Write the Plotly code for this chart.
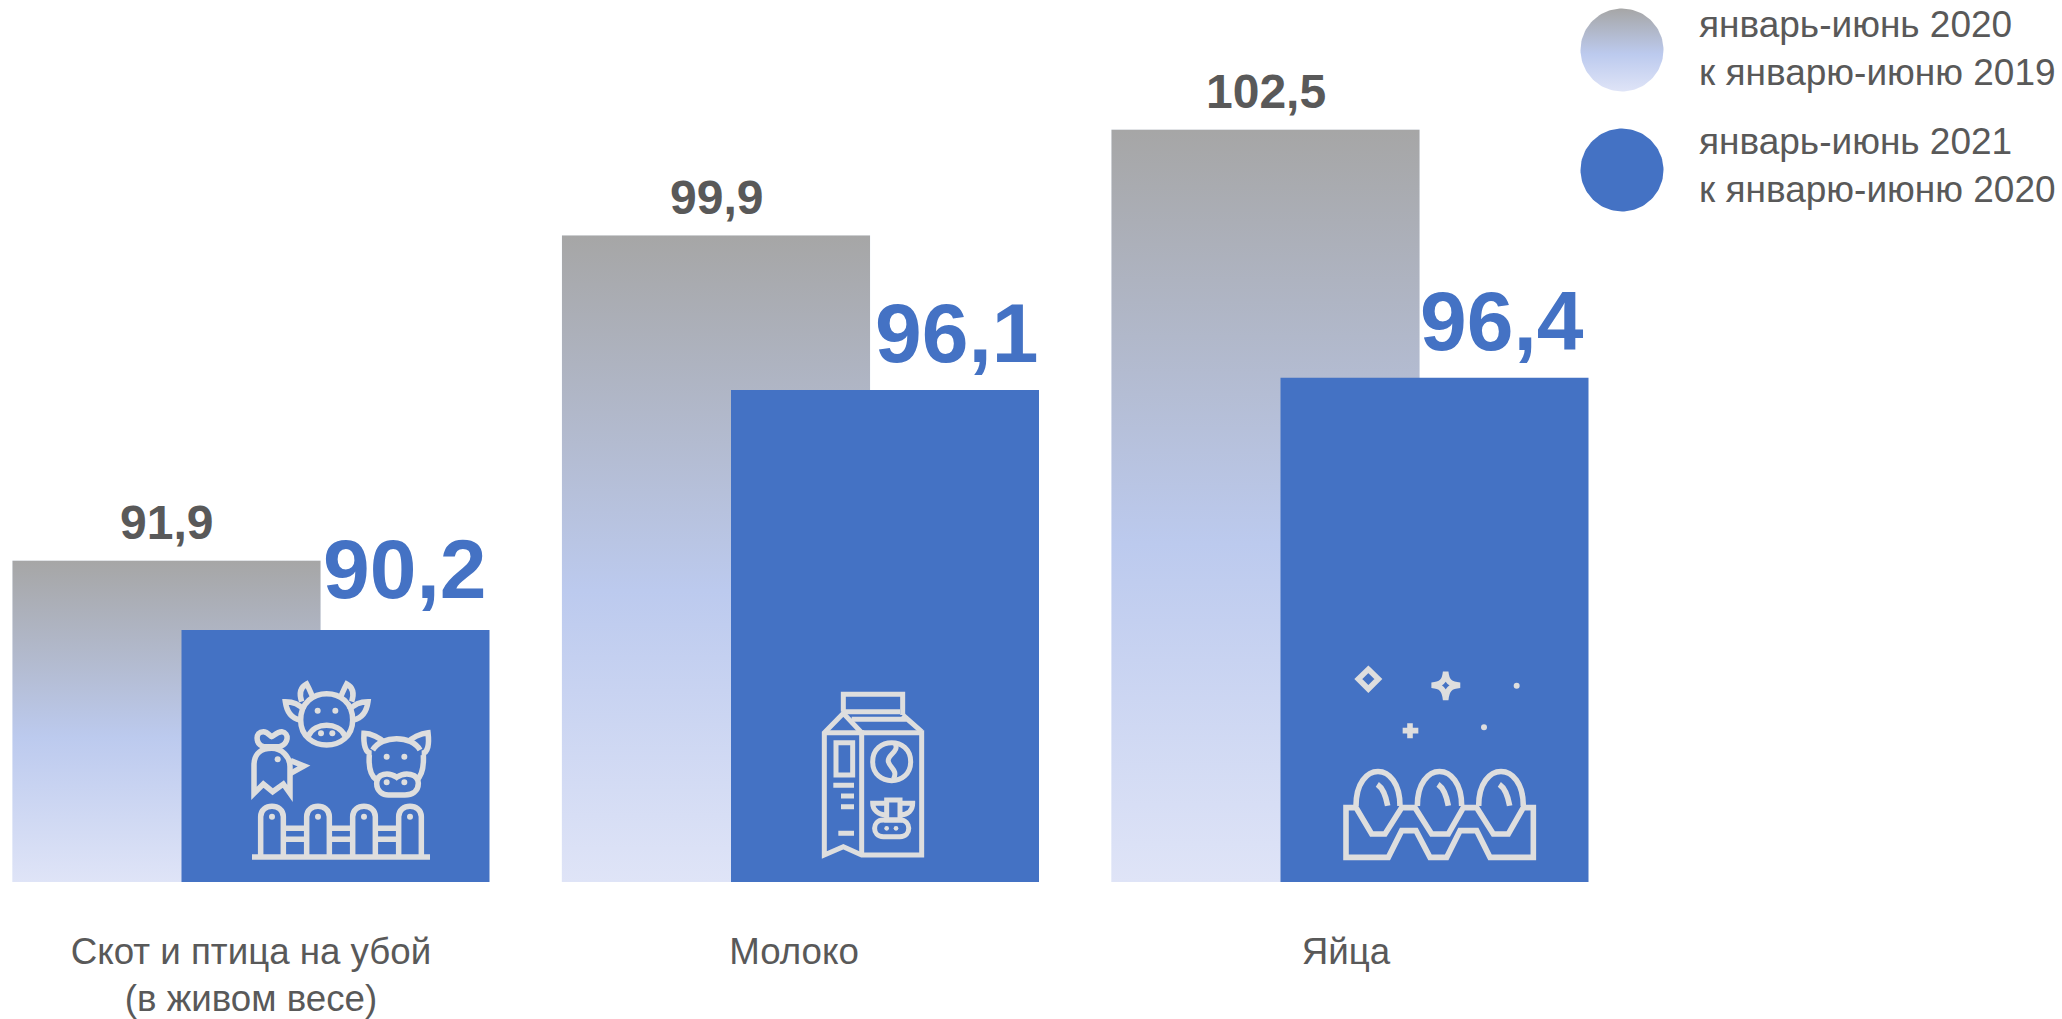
import re
import numpy as np
import plotly.graph_objects as go

# ---------- data ----------
categories = ["Скот и птица на убой<br>(в живом весе)", "Молоко", "Яйца"]
values_2020 = [91.9, 99.9, 102.5]
values_2021 = [90.2, 96.1, 96.4]
labels_2020 = ["91,9", "99,9", "102,5"]
labels_2021 = ["90,2", "96,1", "96,4"]
legend_2020 = "январь-июнь 2020<br>к январю-июню 2019"
legend_2021 = "январь-июнь 2021<br>к январю-июню 2020"

# ---------- style ----------
W, H = 2062, 1019
BOTTOM = 137
BLUE = "#4472c4"
GREY = "#595959"
ICON = "#dedede"
FONT = "Liberation Sans"
GRAD = [[0, "#dfe4f7"], [0.45, "#bccaee"], [1, "#a6a6a6"]]
Y_MIN = 84.0
PX_PER_UNIT = 40.66
PX_PER_CAT = 549.5
Y_MAX = Y_MIN + (H - BOTTOM) / PX_PER_UNIT
X_RANGE = [-251 / PX_PER_CAT, (W - 251) / PX_PER_CAT]
BAR_W = 308 / PX_PER_CAT
OFFSET = 84.5 / PX_PER_CAT
idx = list(range(len(categories)))
x_2020 = [i - OFFSET for i in idx]
x_2021 = [i + OFFSET for i in idx]
tick_nudge = [0, -6.5, -4]
tick_pos = [i + n / PX_PER_CAT for i, n in zip(idx, tick_nudge)]

fig = go.Figure()

fig.add_trace(go.Bar(x=x_2020, y=values_2020, width=BAR_W, marker_color="rgba(0,0,0,0)",
                     showlegend=False, hoverinfo="skip"))
for xc, v in zip(x_2020, values_2020):
    fig.add_trace(go.Scatter(
        x=[xc - BAR_W / 2, xc - BAR_W / 2, xc + BAR_W / 2, xc + BAR_W / 2, xc - BAR_W / 2],
        y=[Y_MIN, v, v, Y_MIN, Y_MIN], mode="lines", line_width=0, fill="toself",
        fillgradient=dict(type="vertical", colorscale=GRAD, start=Y_MIN, stop=v),
        showlegend=False, name="2020"))

fig.add_trace(go.Bar(x=x_2021, y=values_2021, width=BAR_W, marker_color=BLUE,
                     marker_line_width=0, xaxis="x2", yaxis="y2", showlegend=False, name="2021"))

# legend swatches, pixel axes
def swatch_outline(cx, cy, r):
    t = np.linspace(0, 2 * np.pi, 121)
    return cx + r * np.cos(t), cy + r * np.sin(t)

sx, sy = swatch_outline(1622, 50, 41.5)
fig.add_trace(go.Scatter(x=sx, y=sy, mode="lines", line_width=0, fill="toself",
                         fillgradient=dict(type="vertical", colorscale=GRAD, start=91.5, stop=8.5),
                         xaxis="x3", yaxis="y3", showlegend=False, hoverinfo="skip"))
sx, sy = swatch_outline(1622, 170, 41.5)
fig.add_trace(go.Scatter(x=sx, y=sy, mode="lines", line_width=0, fill="toself", fillcolor=BLUE,
                         xaxis="x3", yaxis="y3", showlegend=False, hoverinfo="skip"))

# ---------- annotations ----------
ann = []
for xc, v, t in zip(x_2020, values_2020, labels_2020):
    ann.append(dict(x=xc, y=v, xref="x", yref="y", text=f"<b>{t}</b>", showarrow=False,
                    xanchor="center", yanchor="bottom", yshift=10,
                    font=dict(family=FONT, size=48, color=GREY)))
left_gap = [3, 6, 1]
lift = [12, 8, 8]
for xc, v, t, g, l in zip(x_2020, values_2021, labels_2021, left_gap, lift):
    ann.append(dict(x=xc + BAR_W / 2, y=v, xref="x", yref="y", text=f"<b>{t}</b>", showarrow=False,
                    xanchor="left", yanchor="bottom", yshift=l, xshift=g - 3,
                    font=dict(family=FONT, size=84, color=BLUE)))
for y, t in ((48, legend_2020), (165, legend_2021)):
    ann.append(dict(x=1697, y=y, xref="x3", yref="y3", text=t, showarrow=False, align="left",
                    xanchor="left", yanchor="middle",
                    font=dict(family=FONT, size=37, color=GREY)))

# ---------- icons ----------
def path(ox, oy, d, width=4.8, fill=None):
    def conv(tokens):
        out, is_x = [], True
        for tok in tokens:
            if re.match(r"[A-Za-z]", tok):
                out.append(tok)
                cmd = tok
                is_x = cmd != "V"
            else:
                v = float(tok) / 3
                v = v + (ox if is_x else oy)
                out.append(f"{v:.2f}")
                if cmd not in "HV":
                    is_x = not is_x
        return " ".join(out)
    return dict(type="path", xref="x3", yref="y3", layer="above", path=conv(re.findall(r"[A-Za-z]|-?\d+\.?\d*", d)),
                line=dict(color=ICON, width=width), fillcolor=fill or "rgba(0,0,0,0)")

def dot(ox, oy, x, y, r=9):
    cx, cy, rr = ox + x / 3, oy + y / 3, r / 3
    return dict(type="circle", xref="x3", yref="y3", layer="above",
                x0=cx - rr, x1=cx + rr, y0=cy - rr, y1=cy + rr, line_width=0, fillcolor=ICON)

shapes = []
# farm (zoom 0,520)
o = (0, 520)
farm = [
    "M756 1011 H1290",
    "M782 1005 V890 C782 848 850 848 850 890 V1005",
    "M920 1005 V890 C920 848 988 848 988 890 V1005",
    "M1058 1005 V890 C1058 848 1126 848 1126 890 V1005",
    "M1196 1005 V890 C1196 848 1264 848 1264 890 V1005",
    "M850 925 H920 M850 958 H920 M988 925 H1058 M988 958 H1058 M1126 925 H1196 M1126 958 H1196",
    "M902 600 C902 495 1058 495 1058 600 C1058 700 902 700 902 600 Z",
    "M925 648 C945 605 1015 605 1035 648",
    "M905 545 C895 515 905 500 920 492 C930 510 935 525 938 530",
    "M1055 545 C1065 515 1055 500 1040 492 C1030 510 1025 525 1022 530",
    "M900 600 C875 595 860 575 856 545 C880 545 900 555 912 570",
    "M1060 600 C1085 595 1100 575 1104 545 C1080 545 1060 555 1048 570",
    "M1108 705 C1105 745 1115 770 1130 780",
    "M1270 705 C1272 745 1262 770 1250 780",
    "M1118 690 C1145 645 1235 645 1260 690",
    "M1190 772 C1165 755 1130 760 1130 790 C1130 815 1150 825 1165 825 H1215 C1235 825 1255 815 1255 790 C1255 760 1215 755 1190 772 Z",
    "M1115 700 C1095 700 1090 670 1092 640 C1115 640 1140 655 1150 665",
    "M1265 700 C1285 700 1288 670 1284 638 C1260 640 1235 655 1225 665",
    "M762 820 V735 C762 700 785 685 815 685 C845 685 870 710 870 740 V820 L850 792 L818 815 L790 792 Z",
    "M790 680 C765 670 765 635 790 635 C805 635 810 650 815 650 C820 650 830 635 845 635 C870 640 865 670 840 680 Z",
    "M872 722 L912 738 L872 760",
]
shapes += [path(*o, d, 5.5) for d in farm]
for x, y in [(816, 890), (954, 890), (1092, 890), (1230, 890), (953, 572), (1006, 572), (963, 640), (997, 640),
             (1160, 710), (1213, 710), (1160, 787), (1213, 787), (833, 718)]:
    shapes.append(dot(*o, x, y))
# milk (zoom 780,660)
o = (780, 660)
milk = [
    "M190 155 V103 H368 V165 M190 155 H360",
    "M133 218 L190 160 L245 218 H425 V585 H245 L190 560 L133 585 Z",
    "M133 218 H245 V585 M368 165 L425 215 M215 178 H385",
    "M168 248 H218 V345 H168 Z",
    "M160 376 H222 M183 408 H222 M183 440 H222 M175 520 H222",
    "M278 305 C278 229 392 229 392 305 C392 381 278 381 278 305 Z",
    "M345 250 C360 275 320 285 325 305 C330 325 355 330 340 358",
    "M320 420 H360 V480 H320 Z",
    "M320 430 H278 C278 450 295 465 320 465 M360 430 H398 C398 450 385 465 360 465",
    "M310 480 H360 C395 480 395 530 360 530 H310 C275 530 275 480 310 480 Z",
]
shapes += [path(*o, d, 5) for d in milk]
shapes += [dot(*o, 320, 505, 7), dot(*o, 348, 505, 7)]
# eggs (zoom 1320,640)
o = (1320, 640)
eggs = [
    "M78 503 H108 L155 582 H195 L245 503 H285 L335 582 H385 L430 503 H470 L520 582 H565 L610 503 H640 V652 H510 L470 572 H420 L380 652 H330 L288 572 H245 L205 652 H78 Z",
    "M108 498 C108 360 240 360 240 498 M292 498 C292 360 425 360 425 498 M476 498 C476 360 610 360 610 498",
    "M172 433 C190 445 198 470 203 497 M354 433 C372 445 380 470 385 497 M538 433 C556 445 564 470 569 497",
    "M145 88 L175 117 L145 147 L115 117 Z",
    "M377 95 C380 125 390 133 420 136 C390 139 380 147 377 180 C374 147 364 139 335 136 C364 133 374 125 377 95 Z",
    "M248 272 H295 M270 250 V295",
]
shapes += [path(*o, d, 5.6) for d in eggs]
shapes += [dot(*o, 590, 137), dot(*o, 492, 262)]

# ---------- layout ----------
hidden = dict(visible=False, showgrid=False, zeroline=False, fixedrange=True)
fig.update_layout(
    width=W, height=H, margin=dict(l=0, r=0, t=0, b=BOTTOM, pad=0, autoexpand=False),
    paper_bgcolor="white", plot_bgcolor="white", barmode="overlay", showlegend=False,
    font=dict(family=FONT, color=GREY),
    xaxis=dict(range=X_RANGE, tickmode="array", tickvals=tick_pos, ticktext=categories,
               automargin=False, showgrid=False, zeroline=False, showline=False, ticks="",
               ticklabelstandoff=44, tickfont=dict(family=FONT, size=36.7, color=GREY), fixedrange=True),
    yaxis=dict(range=[Y_MIN, Y_MAX], **hidden),
    xaxis2=dict(range=X_RANGE, overlaying="x", **hidden),
    yaxis2=dict(range=[Y_MIN, Y_MAX], overlaying="y", **hidden),
    xaxis3=dict(range=[0, W], overlaying="x", **hidden),
    yaxis3=dict(range=[H - BOTTOM, 0], overlaying="y", **hidden),
    annotations=ann, shapes=shapes,
)
fig.write_html("out.html", config={"displayModeBar": False},
               post_script="document.body.style.margin='0';document.body.style.overflow='hidden';")
